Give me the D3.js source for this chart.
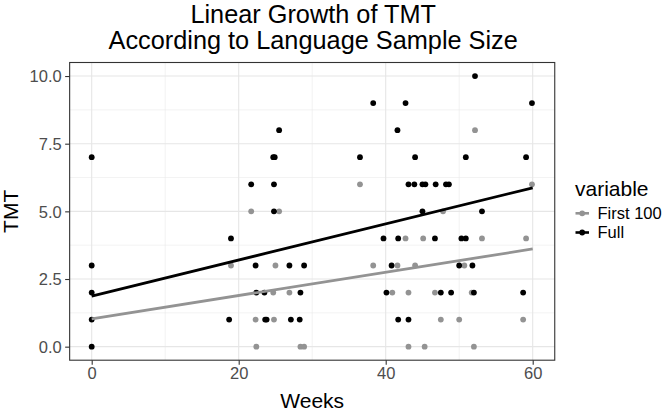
<!DOCTYPE html>
<html>
<head>
<meta charset="utf-8">
<script src="https://cdn.jsdelivr.net/npm/d3@7"></script>
<style>
  html, body { margin: 0; padding: 0; background: #fff; }
  svg { display: block; font-family: "Liberation Sans", Arial, Helvetica, sans-serif; }
</style>
</head>
<body>
<svg id="chart" width="664" height="411"></svg>
<script>
// ---- Data ----
const titleLines = ["Linear Growth of TMT", "According to Language Sample Size"];
const xLabel = "Weeks";
const yLabel = "TMT";
const legendTitle = "variable";
const seriesNames = ["First 100", "Full"];
const seriesColors = ["#939393", "#000000"];

const xTicks = [0, 20, 40, 60];
const xMinor = [10, 30, 50];
const yTicks = [0, 2.5, 5, 7.5, 10];
const yMinor = [1.25, 3.75, 6.25, 8.75];

// Full sample
const weeksFull = [0, 0, 0, 0, 0, 18.7, 18.95, 21.7, 22.3, 22.4, 23.5, 23.6, 23.8, 24.7, 24.9, 24.8, 24.8, 25.5,
  26.9, 27.1, 28.3, 28.4, 28.9, 36.5, 38.3, 39.7, 40.1, 40.8, 41.6, 41.7, 41.7, 42.7, 43.1, 43.1, 43.9, 44.0,
  45.0, 45.4, 45.0, 46.7, 46.8, 47.5, 48.2, 48.6, 48.9, 50.0, 50.3, 50.9, 50.9, 51.8, 52.0, 52.15, 53.1, 58.7, 59.1, 59.9];
const tmtFull = [0, 1, 2, 3, 7, 1, 4, 6, 3, 2, 2, 1, 1, 7, 7, 6, 5, 8,
  3, 1, 1, 2, 3, 7, 9, 4, 2, 3, 8, 4, 1, 9, 6, 1, 6, 7,
  6, 6, 5, 4, 6, 2, 6, 6, 2, 3, 4, 4, 7, 3, 2, 10, 5, 2, 7, 9];

// First 100 utterances
const weeksFirst = [18.95, 21.7, 22.3, 22.4, 24.7, 24.8, 25.0, 25.5, 26.9, 28.4, 28.9, 36.5, 38.3, 40.9, 41.6, 42.7,
  43.1, 43.1, 44.0, 45.1, 45.3, 46.7, 47.5, 47.8, 50.0, 50.7, 51.7, 52.0, 52.15, 53.1, 58.7, 59.1, 59.9];
const tmtFirst = [3, 5, 1, 0, 2, 1, 3, 5, 2, 0, 0, 6, 3, 2, 3, 4,
  2, 0, 3, 4, 0, 2, 1, 5, 1, 3, 2, 0, 8, 4, 1, 4, 6];

// Linear fit lines (endpoints)
const fitWeeks = [0, 60];
const fitFirst = [1.03, 3.61];
const fitFull = [1.87, 5.87];

// ---- Drawing ----
const svg = d3.select("#chart");
const panel = { left: 69.65, right: 554.75, top: 62.5, bottom: 360.2 };

const x = d3.scaleLinear().domain([-3, 63]).range([panel.left, panel.right]);
const y = d3.scaleLinear().domain([-0.5, 10.5]).range([panel.bottom, panel.top]);

svg.append("rect")
  .attr("x", panel.left).attr("y", panel.top)
  .attr("width", panel.right - panel.left).attr("height", panel.bottom - panel.top)
  .attr("fill", "#fff");

const grid = svg.append("g");
grid.selectAll(".xminor").data(xMinor).join("line")
  .attr("x1", d => x(d)).attr("x2", d => x(d))
  .attr("y1", panel.top).attr("y2", panel.bottom)
  .attr("stroke", "#ebebeb").attr("stroke-width", 0.6);
grid.selectAll(".yminor").data(yMinor).join("line")
  .attr("y1", d => y(d)).attr("y2", d => y(d))
  .attr("x1", panel.left).attr("x2", panel.right)
  .attr("stroke", "#ebebeb").attr("stroke-width", 0.6);
grid.selectAll(".xmajor").data(xTicks).join("line")
  .attr("x1", d => x(d)).attr("x2", d => x(d))
  .attr("y1", panel.top).attr("y2", panel.bottom)
  .attr("stroke", "#e6e6e6").attr("stroke-width", 1.1);
grid.selectAll(".ymajor").data(yTicks).join("line")
  .attr("y1", d => y(d)).attr("y2", d => y(d))
  .attr("x1", panel.left).attr("x2", panel.right)
  .attr("stroke", "#e6e6e6").attr("stroke-width", 1.1);

// points
const pts = svg.append("g");
const firstData = weeksFirst.map((w, i) => ({ w, v: tmtFirst[i] }));
const fullData = weeksFull.map((w, i) => ({ w, v: tmtFull[i] }));
pts.selectAll(".pf").data(firstData).join("circle")
  .attr("cx", d => x(d.w)).attr("cy", d => y(d.v)).attr("r", 2.9)
  .attr("fill", seriesColors[0]);
pts.selectAll(".pF").data(fullData).join("circle")
  .attr("cx", d => x(d.w)).attr("cy", d => y(d.v)).attr("r", 2.9)
  .attr("fill", seriesColors[1]);

// fit lines
const line = d3.line().x(d => x(d[0])).y(d => y(d[1]));
svg.append("path")
  .datum(fitWeeks.map((w, i) => [w, fitFirst[i]]))
  .attr("d", line).attr("fill", "none")
  .attr("stroke", seriesColors[0]).attr("stroke-width", 2.8);
svg.append("path")
  .datum(fitWeeks.map((w, i) => [w, fitFull[i]]))
  .attr("d", line).attr("fill", "none")
  .attr("stroke", seriesColors[1]).attr("stroke-width", 2.8);

// panel border
svg.append("rect")
  .attr("x", panel.left).attr("y", panel.top)
  .attr("width", panel.right - panel.left).attr("height", panel.bottom - panel.top)
  .attr("fill", "none").attr("stroke", "#333").attr("stroke-width", 1.1);

// axes
const xAxis = svg.append("g")
  .attr("transform", `translate(0,${panel.bottom})`)
  .call(d3.axisBottom(x).tickValues(xTicks).tickFormat(d3.format("d")).tickSize(4.5).tickPadding(3));
const yAxis = svg.append("g")
  .attr("transform", `translate(${panel.left},0)`)
  .call(d3.axisLeft(y).tickValues(yTicks).tickFormat(d3.format(".1f")).tickSize(4.5).tickPadding(3.5));
[xAxis, yAxis].forEach(a => {
  a.select(".domain").remove();
  a.selectAll(".tick line").attr("stroke", "#333").attr("stroke-width", 1.1);
  a.selectAll(".tick text").attr("fill", "#4d4d4d")
    .style("font-size", "16.5px").style("font-family", "'Liberation Sans', Arial, sans-serif");
});
yAxis.selectAll(".tick text").attr("dy", "0.36em");

// axis titles
svg.append("text").attr("x", (panel.left + panel.right) / 2).attr("y", 408)
  .attr("text-anchor", "middle").style("font-size", "21px").attr("fill", "#000").text(xLabel);
svg.append("text")
  .attr("transform", `translate(18,${(panel.top + panel.bottom) / 2}) rotate(-90)`)
  .attr("text-anchor", "middle").style("font-size", "21px").attr("fill", "#000").text(yLabel);

// title
svg.append("g").selectAll("text").data(titleLines).join("text")
  .attr("x", (panel.left + panel.right) / 2 + 1)
  .attr("y", (d, i) => 23 + i * 25.5)
  .attr("text-anchor", "middle").style("font-size", "25.3px").attr("fill", "#000")
  .text(d => d);

// legend
const lg = svg.append("g");
lg.append("text").attr("x", 575).attr("y", 196).style("font-size", "21px").text(legendTitle);
const items = lg.selectAll(".item").data(seriesNames).join("g")
  .attr("transform", (d, i) => `translate(0,${213.3 + i * 19.2})`);
items.append("line").attr("x1", 575.5).attr("x2", 589).attr("y1", 0).attr("y2", 0)
  .attr("stroke", (d, i) => seriesColors[i]).attr("stroke-width", 2.6);
items.append("circle").attr("cx", 582.2).attr("cy", 0).attr("r", 2.9)
  .attr("fill", (d, i) => seriesColors[i]);
items.append("text").attr("x", 597.5).attr("y", 5.6).style("font-size", "16.5px").text(d => d);
</script>
</body>
</html>
